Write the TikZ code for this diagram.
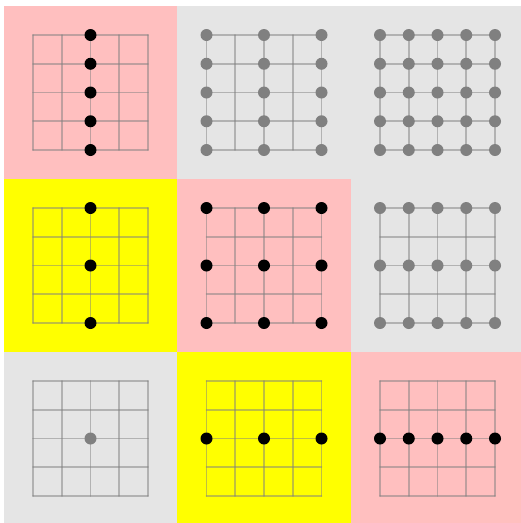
\documentclass[tikz,border=0pt]{standalone}
\definecolor{cellpink}{RGB}{255,191,191}
\definecolor{cellgray}{RGB}{229,229,229}
\definecolor{cellyellow}{RGB}{255,255,0}
\definecolor{dotgray}{RGB}{128,128,128}
\tikzset{
  gridline/.style={draw=dotgray, draw opacity=0.5, line width=1.6pt, line cap=round},
  blackdot/.style={fill=black},
  graydot/.style={fill=dotgray},
}
% #1,#2 = centre
\newcommand\mygrid[2]{%
  \foreach \k in {0,...,4}{%
    \draw[gridline] ({#1-57.5+28.75*\k},{#2-57.5}) -- ({#1-57.5+28.75*\k},{#2+57.5});
    \draw[gridline] ({#1-57.5},{#2-57.5+28.75*\k}) -- ({#1+57.5},{#2-57.5+28.75*\k});
  }}
% #1,#2 centre, #3 style, #4 col list, #5 row list
\newcommand\mydots[5]{%
  \foreach \i in {#4}{\foreach \j in {#5}{%
    \fill[#3] ({#1-57.5+28.75*\i},{#2-57.5+28.75*\j}) circle (6);
  }}}
\begin{document}
\begin{tikzpicture}[x=1pt,y=-1pt]
\useasboundingbox (0,0) rectangle (521,523);
\fill[white] (0,0) rectangle (521,523);
% backgrounds
\fill[cellpink]   (4,6) rectangle (177.25,179);
\fill[cellgray]   (177.25,6) rectangle (350.75,179);
\fill[cellgray]   (350.75,6) rectangle (521,179);
\fill[cellyellow] (4,179) rectangle (177.25,352);
\fill[cellpink]   (177.25,179) rectangle (350.75,352);
\fill[cellgray]   (350.75,179) rectangle (521,352);
\fill[cellgray]   (4,352) rectangle (177.25,523);
\fill[cellyellow] (177.25,352) rectangle (350.75,523);
\fill[cellpink]   (350.75,352) rectangle (521,523);
% grids
\foreach \cx in {90.5,264,437.5}{\foreach \cy in {92.5,265.5,438.5}{\mygrid{\cx}{\cy}}}
% dots row 1
\mydots{90.5}{92.5}{blackdot}{2}{0,...,4}
\mydots{264}{92.5}{graydot}{0,2,4}{0,...,4}
\mydots{437.5}{92.5}{graydot}{0,...,4}{0,...,4}
% row 2
\mydots{90.5}{265.5}{blackdot}{2}{0,2,4}
\mydots{264}{265.5}{blackdot}{0,2,4}{0,2,4}
\mydots{437.5}{265.5}{graydot}{0,...,4}{0,2,4}
% row 3
\mydots{90.5}{438.5}{graydot}{2}{2}
\mydots{264}{438.5}{blackdot}{0,2,4}{2}
\mydots{437.5}{438.5}{blackdot}{0,...,4}{2}
\end{tikzpicture}
\end{document}
